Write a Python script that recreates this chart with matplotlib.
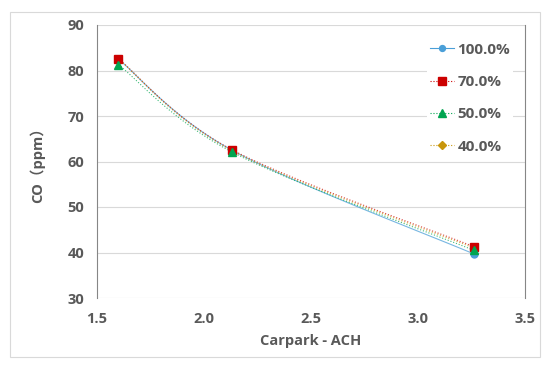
import numpy as np
import matplotlib.pyplot as plt
from matplotlib.patches import Rectangle

ach = [1.6, 2.13, 3.26]
labels = ['100.0%', '70.0%', '50.0%', '40.0%']
co_100 = [82.5, 62.5, 39.7]
co_70 = [82.6, 62.6, 41.3]
co_50 = [81.3, 62.1, 40.5]
co_40 = [82.5, 62.4, 41.0]
series = [co_100, co_70, co_50, co_40]

colors = ['#4a9fd8', '#cc0000', '#00a550', '#c8960c']
markers = ['o', 's', '^', 'D']
styles = ['-', ':', ':', ':']
msizes = [5, 6, 6, 4.5]
zs = [4, 5, 6, 3]

gray = '#595959'
plt.rcParams['font.family'] = ['Open Sans', 'Noto Sans CJK SC', 'DejaVu Sans']
plt.rcParams['font.weight'] = 'bold'


def smooth(x, y, n=40):
    # excel-like smoothed line (catmull-rom bezier)
    x = np.asarray(x, float)
    y = np.asarray(y, float)
    px = np.concatenate([[x[0]], x, [x[-1]]])
    py = np.concatenate([[y[0]], y, [y[-1]]])
    xs, ys = [], []
    t = np.linspace(0, 1, n)
    for i in range(1, len(px) - 2):
        p0 = np.array([px[i], py[i]])
        p3 = np.array([px[i + 1], py[i + 1]])
        c1 = p0 + (p3 - np.array([px[i - 1], py[i - 1]])) / 6
        c2 = p3 - (np.array([px[i + 2], py[i + 2]]) - p0) / 6
        b = ((1 - t) ** 3)[:, None] * p0 + (3 * (1 - t) ** 2 * t)[:, None] * c1 \
            + (3 * (1 - t) * t ** 2)[:, None] * c2 + (t ** 3)[:, None] * p3
        xs.extend(b[:, 0])
        ys.extend(b[:, 1])
    return xs, ys


fig = plt.figure(figsize=(5.5, 3.76), dpi=100)
fig.patches.append(Rectangle((10 / 550, 1 - 357 / 376), 530 / 550, 345 / 376,
                             transform=fig.transFigure, fill=False,
                             edgecolor='#d9d9d9', linewidth=0.8))
ax = fig.add_axes([97 / 550, 1 - 298 / 376, 428 / 550, 273 / 376])

for vals, lab, c, m, ls, ms, z in zip(series, labels, colors, markers, styles, msizes, zs):
    sx, sy = smooth(ach, vals)
    ax.plot(sx, sy, color=c, linestyle=ls, linewidth=0.8, alpha=0.75, zorder=2)
    ax.plot(ach, vals, linestyle='none', marker=m, markersize=ms, color=c, zorder=z)
    ax.plot([], [], color=c, linestyle=ls, linewidth=0.8, marker=m,
            markersize=ms * 0.85, label=lab)

ax.set_xlim(1.5, 3.5)
ax.set_ylim(30, 90)
ax.set_xticks([1.5, 2.0, 2.5, 3.0, 3.5])
ax.set_yticks(range(30, 91, 10))
ax.yaxis.grid(True, color='#d9d9d9', linewidth=0.8)
ax.set_axisbelow(True)
for s in ['top', 'bottom']:
    ax.spines[s].set_visible(False)
ax.spines['left'].set_color('#868686')
ax.spines['right'].set_color('#868686')
ax.tick_params(length=0, labelsize=10.5, labelcolor=gray)
ax.tick_params(axis='x', pad=10)
ax.tick_params(axis='y', pad=9)
for t in ax.get_xticklabels() + ax.get_yticklabels():
    t.set_fontweight('bold')
ax.set_xlabel('Carpark - ACH', fontsize=10.5, color=gray, labelpad=6,
              fontweight='bold')
ax.set_ylabel('CO（ppm）', fontsize=10.5, color=gray, labelpad=16,
              fontweight='bold')

leg = ax.legend(loc='upper right', bbox_to_anchor=(0.99, 0.975), frameon=True,
                prop={'size': 11, 'weight': 'bold'}, labelspacing=1.2,
                handlelength=1.6, handletextpad=0.2, borderpad=0.2)
leg.set_zorder(10)
leg.get_frame().set_edgecolor('none')
leg.get_frame().set_facecolor('white')
leg.get_frame().set_alpha(1)
for t in leg.get_texts():
    t.set_color(gray)

fig.savefig('out.png', dpi=100)
